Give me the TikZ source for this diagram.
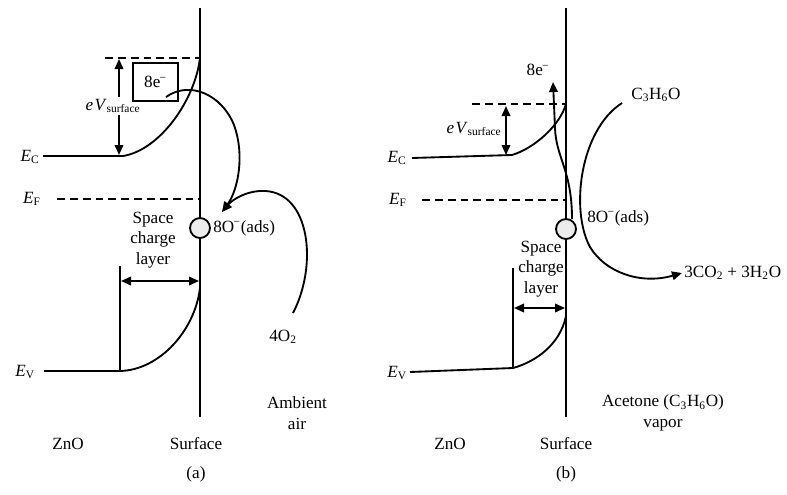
\documentclass[12pt,tikz,border=0pt]{standalone}
\usepackage{fontspec}
\setmainfont{Liberation Serif}
\usetikzlibrary{arrows.meta}
\newcommand{\Elev}[1]{\textit{E}\textsubscript{#1}}
\newcommand{\eVs}{\textit{e\kern1pt V}\textsubscript{surface}}
\newcommand{\minuscharge}{\textsuperscript{\kern-0.5pt−}}
\begin{document}
\begin{tikzpicture} [x = 0.7pt, y = -0.7pt, line width = 1.3pt,
	lvl/.style = {dash pattern = on 5.5pt off 3.5pt},
	tip/.style = {-{Triangle[length=7pt,width=6pt]}},
	both/.style = {{Triangle[length=7pt,width=6pt]}-{Triangle[length=7pt,width=6pt]}},
	ads/.style = {circle, draw, fill = gray!15, minimum size = 14pt, inner sep = 0pt},
	txt/.style = {inner sep = 1pt, align = center}]
	\useasboundingbox (0,0) rectangle (787,494);
	% (a) ambient air
	\coordinate (sa top) at (200,8);
	\coordinate (sa bot) at (200,417);
	\draw (sa top) -- (sa bot);
	\node [txt] (ECa) at (30,157) {\Elev{C}};
	\node [txt] (EFa) at (32,199) {\Elev{F}};
	\node [txt] (EVa) at (25,372) {\Elev{V}};
	\coordinate (ca0) at (43,156);
	\coordinate (ca1) at (123,156);
	\coordinate (ca2) at (200,58);
	\draw (ca0) -- (ca1) .. controls (160,150) and (195,100) .. (ca2);
	\coordinate (da0) at (105,58);
	\draw [lvl] (da0) -- (ca2);
	\coordinate (fa0) at (57,199);
	\coordinate (fa1) at (200,199);
	\draw [lvl] (fa0) -- (fa1);
	\node [txt] (eVa) at (113,106) {\eVs};
	\draw [tip] (eVa.north -| 119,0) -- (119,59);
	\draw [tip] (eVa.south -| 119,0) -- (119,155);
	\node [draw, minimum width = 31.5pt, minimum height = 26.6pt] (ea) at (155.5,82) {8e\minuscharge};
	\node [ads] (oa) at (200,228) {};
	\node [txt, anchor = west] (oal) at (211,228) {8O\minuscharge(ads)};
	\coordinate (ha) at (222,212);
	\draw [tip] (166,97) .. controls (190,80) and (222,95) .. (234,125) .. controls (245,155) and (238,190) .. (ha);
	\node [txt] (o2a) at (283,337) {4O\textsubscript{2}};
	\draw [tip] (293,313) .. controls (318,265) and (310,193) .. (265,191) .. controls (247,190) and (232,200) .. (ha);
	\node [txt] (sca) at (153,240) {Space\\charge\\layer};
	\coordinate (va0) at (120,266);
	\coordinate (va1) at (120,371);
	\draw (va0) -- (va1);
	\draw [both] (121,281) -- (199,281);
	\coordinate (ba0) at (44,371);
	\draw (ba0) -- (va1) .. controls (160,370) and (195,330) .. (200,288);
	\node [txt] (aira) at (297,413) {Ambient\\air};
	\node [txt] (zna) at (68,444) {ZnO};
	\node [txt] (sfa) at (196,444) {Surface};
	\node [txt] (capa) at (196,474) {(a)};
	% (b) acetone vapor
	\coordinate (sb top) at (566,8);
	\coordinate (sb bot) at (566,417);
	\draw (sb top) -- (sb bot);
	\node [txt] (ECb) at (397,158) {\Elev{C}};
	\node [txt] (EFb) at (398,200) {\Elev{F}};
	\node [txt] (EVb) at (397,373) {\Elev{V}};
	\coordinate (cb0) at (412,158);
	\coordinate (cb1) at (512,155);
	\coordinate (cb2) at (566,104);
	\draw (cb0) -- (cb1) .. controls (535,148) and (560,125) .. (cb2);
	\coordinate (db0) at (472,104);
	\draw [lvl] (db0) -- (cb2);
	\coordinate (fb0) at (422,200);
	\coordinate (fb1) at (566,200);
	\draw [lvl] (fb0) -- (fb1);
	\draw [both] (506,106) -- (506,155);
	\node [txt] (eVb) at (474,129) {\eVs};
	\node [ads] (ob) at (566,229) {};
	\node [txt, anchor = west] (obl) at (585,218) {8O\minuscharge(ads)};
	\node [txt] (eb) at (538,70) {8e\minuscharge};
	\draw [tip] (572,219) .. controls (572,170) and (556,158) .. (555,128) -- (553,82);
	\node [txt, anchor = west] (acb) at (629,95) {C\textsubscript{3}H\textsubscript{6}O};
	\node [txt, anchor = west] (prb) at (682,273) {3CO\textsubscript{2} + 3H\textsubscript{2}O};
	\draw [tip] (622,103) .. controls (580,130) and (570,210) .. (590,247) .. controls (605,272) and (640,285) .. (prb.west);
	\node [txt] (scb) at (541,269) {Space\\charge\\layer};
	\coordinate (vb0) at (513,268);
	\coordinate (vb1) at (513,368);
	\draw (vb0) -- (vb1);
	\draw [both] (514,308) -- (565,308);
	\coordinate (bb0) at (410,372);
	\draw (bb0) -- (vb1) .. controls (535,362) and (560,345) .. (566,316);
	\node [txt] (airb) at (663,413) {Acetone (C\textsubscript{3}H\textsubscript{6}O)\\vapor};
	\node [txt] (znb) at (450,444) {ZnO};
	\node [txt] (sfb) at (566,444) {Surface};
	\node [txt] (capb) at (566,474) {(b)};
\end{tikzpicture}
\end{document}
